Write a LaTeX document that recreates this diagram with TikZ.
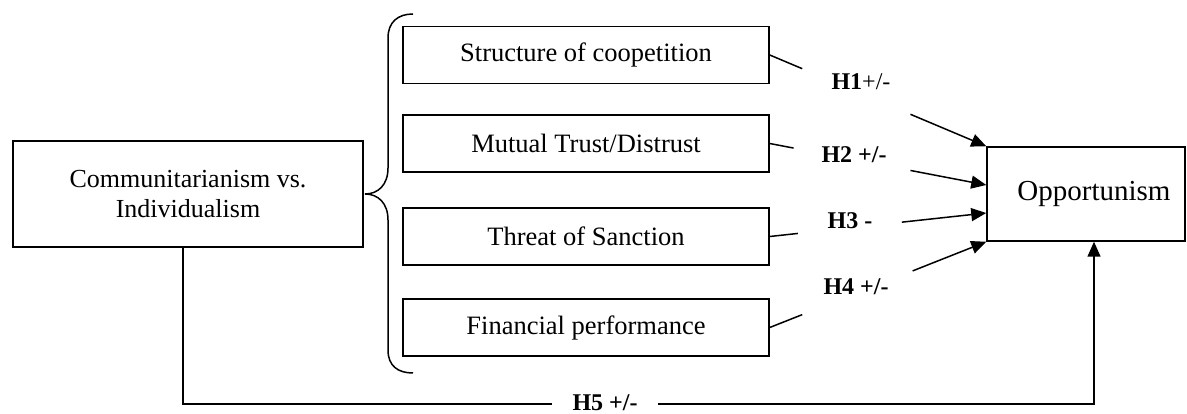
\documentclass[tikz,border=0pt]{standalone}
\usepackage{fontspec}
\setmainfont{Liberation Serif}
\usetikzlibrary{arrows.meta,calc}
\tikzset{
  box/.style={draw, line width=1.5pt, inner sep=0pt, align=center},
  midbox/.style={box, minimum width=366pt, minimum height=57pt, font=\fontsize{26.5}{30}\selectfont},
  hlabel/.style={inner sep=0pt, font=\fontsize{24}{28}\selectfont\bfseries},
  link/.style={line width=1.5pt},
  arr/.style={line width=1.5pt, -{Triangle[length=15pt,width=13pt]}}
}
\begin{document}
\begin{tikzpicture}[x=1pt,y=-1pt]
\useasboundingbox (0,0) rectangle (1187,414);
% nodes
\node[box, minimum width=350pt, minimum height=106pt, font=\fontsize{26}{30}\selectfont] (cv) at (188,194) {Communitarianism vs.\\Individualism};
\node[midbox] (s1) at (586,55) {Structure of coopetition};
\node[midbox] (s2) at (586,143.5) {Mutual Trust/Distrust};
\node[midbox] (s3) at (586,236.5) {Threat of Sanction};
\node[midbox] (s4) at (586,327.5) {Financial performance};
\node[box, minimum width=198pt, minimum height=94pt, font=\fontsize{29}{34}\selectfont] (opp) at (1086,194) {\hspace*{16pt}Opportunism};
% brace
\draw[link] (413,14) .. controls (398,14) and (388,22) .. (388,38) -- (388,168)
  .. controls (388,185) and (378,194) .. (365,194)
  .. controls (378,194) and (388,203) .. (388,220) -- (388,350)
  .. controls (388,366) and (398,373) .. (413,373);
% labels
\node[hlabel] (h1) at (861,82) {H1\mdseries+/-};
\node[hlabel] (h2) at (854,155) {H2 +/-};
\node[hlabel] (h3) at (850,221) {H3 -};
\node[hlabel] (h4) at (856,287) {H4 +/-};
\node[hlabel, anchor=south] (h5) at (605,411) {H5 +/-};
\coordinate (h5l) at (552,404);
\coordinate (h5r) at (658,404);
% connectors
\coordinate (t1) at (opp.north west);
\coordinate (t2) at ($(opp.west)+(0,-9)$);
\coordinate (t3) at ($(opp.west)+(0,19)$);
\coordinate (t4) at (opp.south west);
\draw[link] (s1.east) -- ($(s1.east)!0.15!(t1)$);
\draw[arr] ($(s1.east)!0.65!(t1)$) -- (t1);
\draw[link] (s2.east) -- ($(s2.east)!0.11!(t2)$);
\draw[arr] ($(s2.east)!0.65!(t2)$) -- (t2);
\draw[link] (s3.east) -- ($(s3.east)!0.13!(t3)$);
\draw[arr] ($(s3.east)!0.61!(t3)$) -- (t3);
\draw[link] (s4.east) -- ($(s4.east)!0.15!(t4)$);
\draw[arr] ($(s4.east)!0.66!(t4)$) -- (t4);
\draw[link] ($(cv.south)+(-5,0)$) |- (h5l);
\draw[arr] (h5r) -| ($(opp.south)+(8,0)$);
\end{tikzpicture}
\end{document}
